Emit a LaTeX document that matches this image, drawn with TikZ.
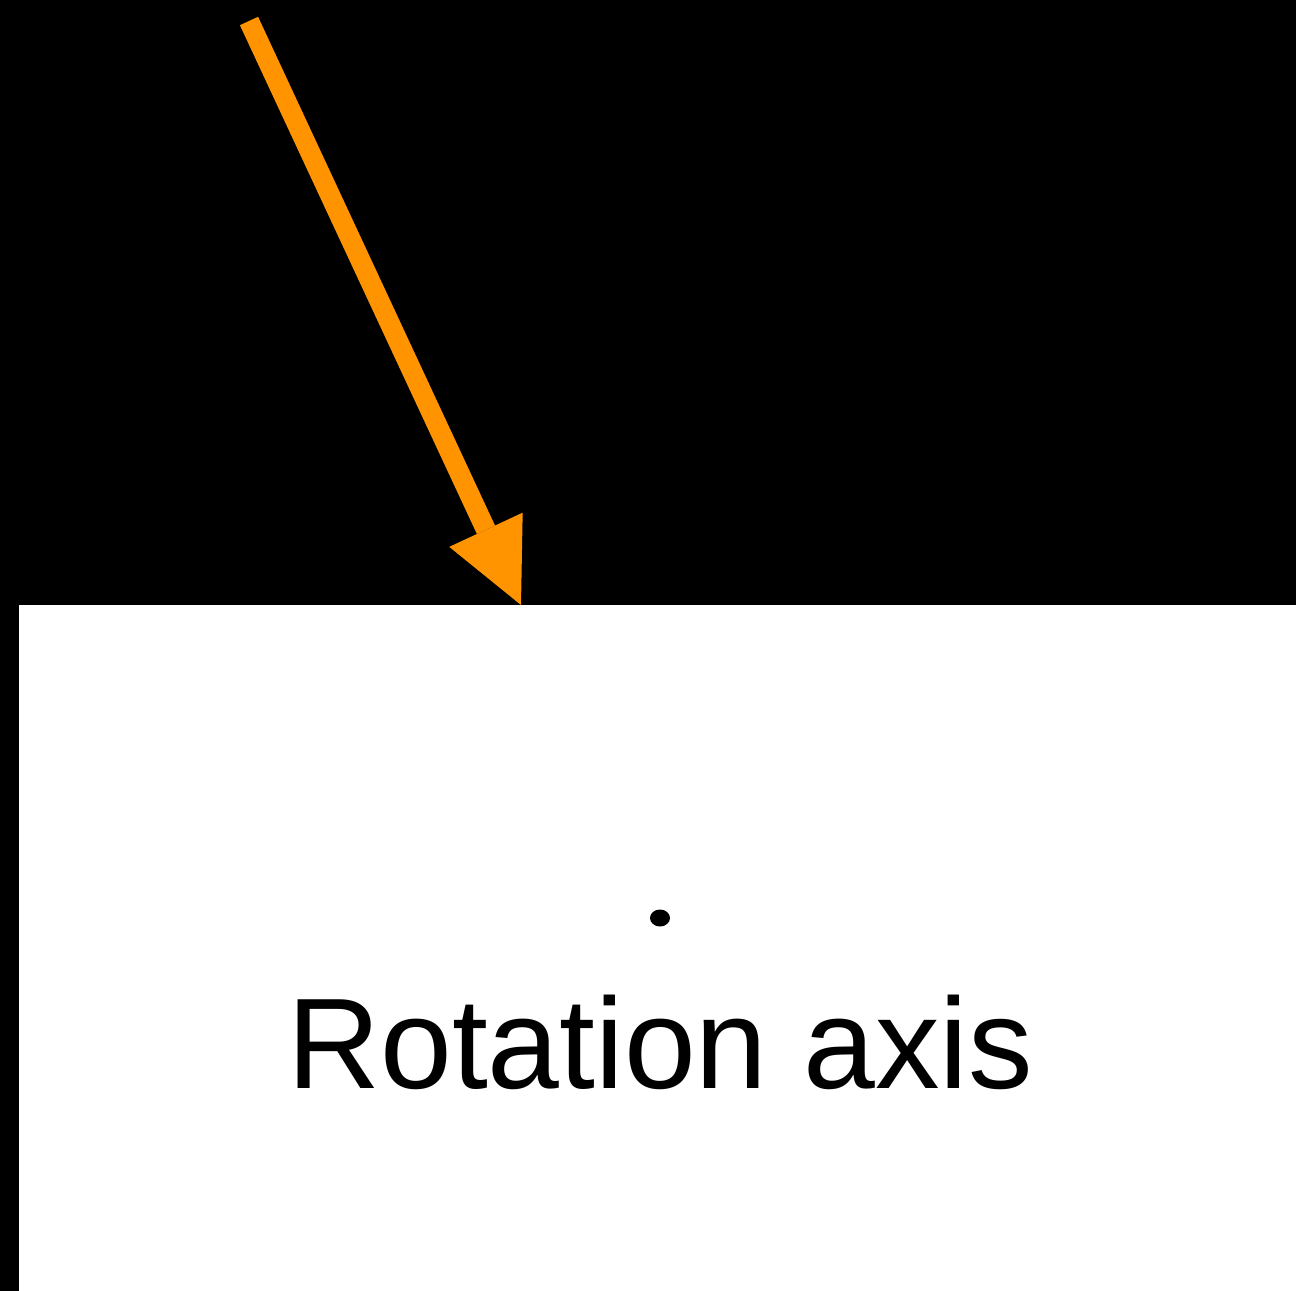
\documentclass[tikz,border=0pt]{standalone}
\usepackage{fontspec}
\setmainfont{Liberation Sans}
\usetikzlibrary{arrows.meta}
\definecolor{arroworange}{RGB}{255,148,0}
\tikzset{
  pointer/.style={draw=arroworange, line width=20bp,
    -{Triangle[length=83bp,width=81bp,fill=arroworange,line width=0pt]}},
  label/.style={font=\fontsize{129bp}{150bp}\selectfont, text=black, inner sep=0pt, anchor=base west}
}
\begin{document}
\begin{tikzpicture}[x=1bp,y=-1bp]
\useasboundingbox (0,0) rectangle (1296,1291);
\fill[black] (0,0) rectangle (1296,1291);
\fill[white] (19,605) rectangle (1296,1291);
\coordinate (start) at (249,21);
\coordinate (tip) at (521,605);
\draw[pointer] (start) -- (tip);
\fill[black] (660,918) ellipse [x radius=10, y radius=8.5];
\node[label] (txt) at (287,1088) {Rotation axis};
\end{tikzpicture}
\end{document}
